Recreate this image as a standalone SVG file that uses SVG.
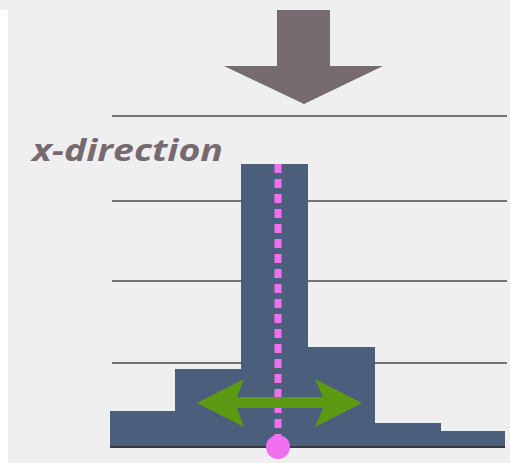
<svg xmlns="http://www.w3.org/2000/svg" width="510" height="463" viewBox="0 0 510 463">
<style>
.grid{stroke:#4a4a4a;stroke-width:1.6}
.bar{fill:#4b5f7d}
.lbl{font-family:"Open Sans","DejaVu Sans",sans-serif;font-weight:bold;font-style:italic;font-size:30px;fill:#766a70}
</style>
<rect x="0" y="0" width="510" height="463" fill="#efefef"/>
<rect x="0" y="10" width="8" height="453" fill="#ffffff"/>
<g id="down-arrow">
<polygon points="277,10 330,10 330,66 383,66 304,104 224,66 277,66" fill="#776b72"/>
</g>
<g id="grid-lines">
<line class="grid" x1="112" y1="116" x2="507" y2="116"/>
<line class="grid" x1="112" y1="201" x2="507" y2="201"/>
<line class="grid" x1="112" y1="281" x2="507" y2="281"/>
<line class="grid" x1="112" y1="363" x2="507" y2="363"/>
</g>
<g id="label">
<text class="lbl" x="32" y="161" textLength="191" lengthAdjust="spacingAndGlyphs">x-direction</text>
</g>
<g id="histogram">
<rect class="bar" x="110" y="411" width="65" height="36"/>
<rect class="bar" x="175" y="369" width="66" height="78"/>
<rect class="bar" x="241" y="164" width="67" height="283"/>
<rect class="bar" x="308" y="347" width="67" height="100"/>
<rect class="bar" x="375" y="423" width="66" height="24"/>
<rect class="bar" x="441" y="431" width="64" height="16"/>
<line x1="110" y1="447" x2="505" y2="447" stroke="#3a3a3a" stroke-width="2"/>
</g>
<g id="connectors">
<line x1="278" y1="164" x2="278" y2="440" stroke="#f070f0" stroke-width="7" stroke-dasharray="9 6"/>
<polygon points="197,403 244,379 237,397 323,397 315,379 362,403 315,427 323,408 237,408 244,427" fill="#5c9a14"/>
</g>
<g id="origin">
<circle cx="278" cy="447" r="12" fill="#f070f0"/>
</g>
</svg>
